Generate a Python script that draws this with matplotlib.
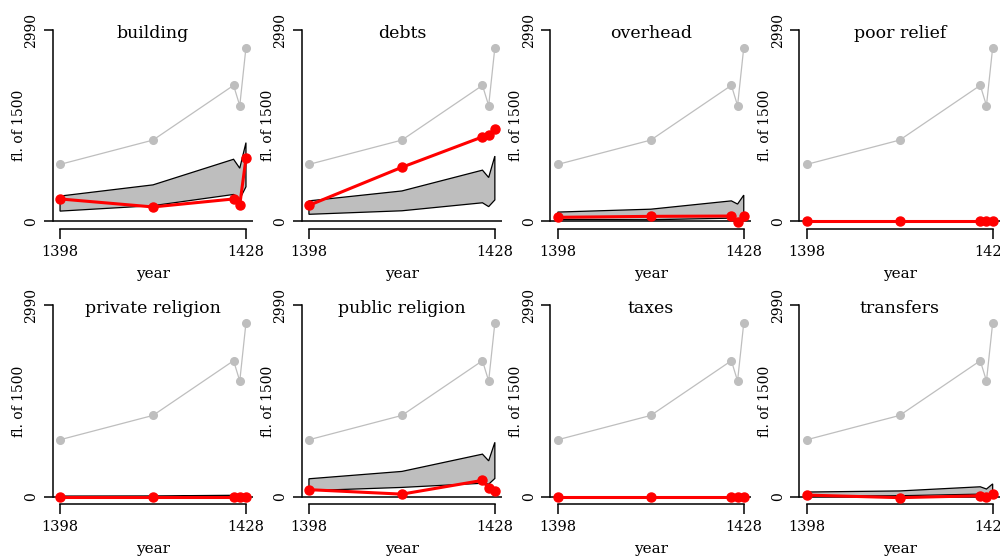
import numpy as np
import matplotlib
matplotlib.use('Agg')
import matplotlib.pyplot as plt

### Data (fl. of 1500)
years = [1398, 1413, 1426, 1427, 1428]
total = [890, 1270, 2125, 1808, 2715]

categories = ['building', 'debts', 'overhead', 'poor relief',
              'private religion', 'public religion', 'taxes', 'transfers']

band_lower = {
    'building':         [160, 245, 420, 350, 540],
    'debts':            [110, 165, 290, 230, 335],
    'overhead':         [30, 25, 50, 20, 50],
    'poor relief':      [0, 0, 0, 0, 0],
    'private religion': [0, 0, 5, 5, 10],
    'public religion':  [95, 145, 210, 195, 285],
    'taxes':            [0, 0, 0, 0, 0],
    'transfers':        [10, 15, 40, 30, 50],
}
band_upper = {
    'building':         [395, 570, 970, 830, 1230],
    'debts':            [320, 475, 800, 685, 1020],
    'overhead':         [145, 190, 320, 270, 410],
    'poor relief':      [5, 5, 5, 5, 5],
    'private religion': [10, 12, 22, 20, 45],
    'public religion':  [280, 395, 665, 560, 850],
    'taxes':            [3, 3, 3, 3, 3],
    'transfers':        [73, 90, 155, 120, 200],
}
spend = {
    'building':         [350, 225, 350, 255, 985],
    'debts':            [250, 845, 1320, 1350, 1445],
    'overhead':         [63, 78, 83, -10, 80],
    'poor relief':      [0, 0, 0, 0, 0],
    'private religion': [0, 0, 0, 0, 0],
    'public religion':  [110, 40, 255, 130, 85],
    'taxes':            [0, 0, 0, 0, 0],
    'transfers':        [25, -15, 15, -10, 45],
}

ytop = 2990

### Style
plt.rc('font', family='DejaVu Serif')
grey = '#BEBEBE'

fig = plt.figure(figsize=(10, 5.58), dpi=100)

W, H = 1000., 558.
axw = 200.8
axh = 206.65
lefts = [52.6 + 248.9*i for i in range(4)]
bottoms = [229.0, 504.35]

for k, cat in enumerate(categories):
    row, col = divmod(k, 4)
    ax = fig.add_axes([lefts[col]/W, 1 - bottoms[row]/H, axw/W, axh/H])
    ax.patch.set_alpha(0)

    ### R-style limits (4% extension)
    xr = years[-1] - years[0]
    ax.set_xlim(years[0] - 0.04*xr, years[-1] + 0.04*xr)
    ax.set_ylim(-0.04*ytop, ytop*1.04)

    ### Total line
    ax.plot(years, total, color=grey, lw=0.9, marker='o', ms=5.5,
            mec=grey, mfc=grey, zorder=2)

    ### Band polygon
    px = list(years) + list(years[::-1])
    py = list(band_upper[cat]) + list(band_lower[cat][::-1])
    ax.fill(px, py, facecolor=grey, edgecolor='black', lw=0.9, zorder=3)

    ax.axhline(0, color='black', lw=1.1, zorder=4)

    ### Category spending
    ax.plot(years, spend[cat], color='red', lw=2.2, marker='o', ms=6.5,
            mec='red', mfc='red', zorder=5)

    ### Axes
    for s in ['top', 'right']:
        ax.spines[s].set_visible(False)
    ax.spines['left'].set_bounds(0, ytop)
    ax.spines['bottom'].set_bounds(years[0], years[-1])
    ax.spines['left'].set_linewidth(1.1)
    ax.spines['bottom'].set_linewidth(1.1)
    ax.set_yticks([0, ytop])
    ax.set_yticklabels(['0', str(ytop)], rotation=90, va='center')
    ax.set_xticks([years[0], years[-1]])
    ax.set_xticklabels([str(years[0]), str(years[-1])])
    ax.tick_params(axis='y', length=6.5, width=1.1, pad=4, labelsize=10)
    ax.tick_params(axis='x', length=7.2, width=1.1, pad=4, labelsize=10.5)

    ax.text(0.5, 0.926, cat, transform=ax.transAxes, ha='center',
            va='baseline', fontsize=12.5)
    ax.text(0.5, -48.7/axh, 'year', transform=ax.transAxes, ha='center',
            va='baseline', fontsize=11)
    ax.text(-34/axw, 0.5, 'fl. of 1500', transform=ax.transAxes,
            ha='center', va='center', rotation=90, fontsize=10)

plt.savefig('out.png', dpi=100)
